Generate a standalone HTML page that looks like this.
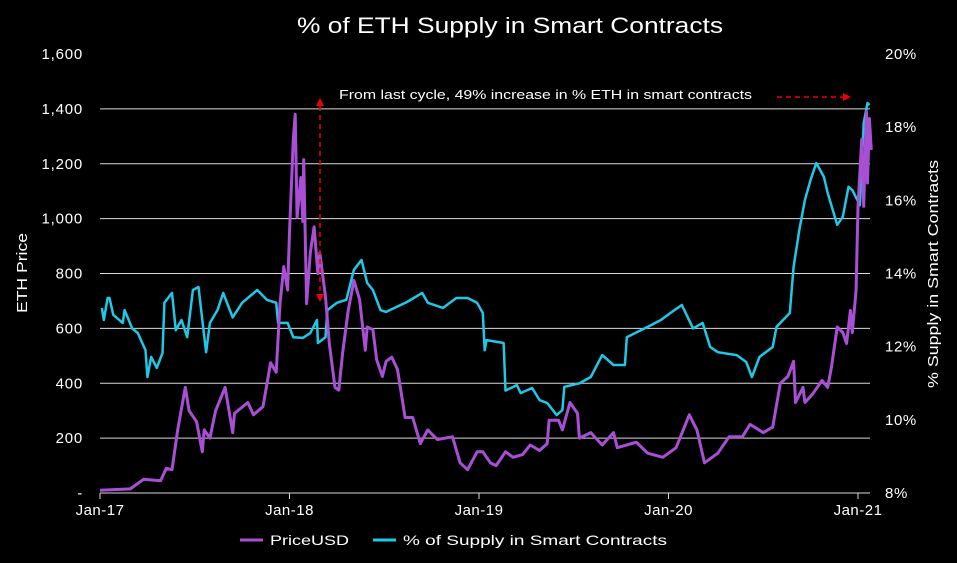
<!DOCTYPE html>
<html><head><meta charset="utf-8"><style>
body{margin:0;background:#000;}
svg{display:block;font-family:"Liberation Sans",sans-serif;}
</style></head><body>
<svg id="chart" width="957" height="563" viewBox="0 0 957 563">
<rect width="957" height="563" fill="#000"/>
<text x="297" y="33" fill="#fff" font-size="22" textLength="426" lengthAdjust="spacingAndGlyphs">% of ETH Supply in Smart Contracts</text>
<g id="grid"></g>
<g id="yl"></g>
<g id="yr"></g>
<g id="xa"></g>
<text transform="translate(27,313) rotate(-90)" fill="#fff" font-size="15" textLength="80" lengthAdjust="spacingAndGlyphs">ETH Price</text>
<text transform="translate(938,388) rotate(-90)" fill="#fff" font-size="15" textLength="228" lengthAdjust="spacingAndGlyphs">% Supply in Smart Contracts</text>
<path id="supplyLine" fill="none" stroke="#1ec8e6" stroke-width="2.5" stroke-linejoin="round"/>
<path id="priceLine" fill="none" stroke="#a84fd6" stroke-width="3" stroke-linejoin="round"/>
<text x="339" y="99" fill="#fff" font-size="13" textLength="413" lengthAdjust="spacingAndGlyphs">From last cycle, 49% increase in % ETH in smart contracts</text>
<g>
<line x1="777" y1="97" x2="843" y2="97" stroke="#e00" stroke-width="1.5" stroke-dasharray="5,4"/>
<polygon points="843,93 851,97 843,101" fill="#e00"/>
</g>
<g>
<line x1="320" y1="106" x2="320" y2="294" stroke="#e00" stroke-width="1.5" stroke-dasharray="5,4"/>
<polygon points="316,106 320,98 324,106" fill="#e00"/>
<polygon points="316,294 320,302 324,294" fill="#e00"/>
</g>
<g>
<g>
<line x1="240" y1="540" x2="263" y2="540" stroke="#a84fd6" stroke-width="3"/>
<text x="270" y="545" fill="#fff" font-size="14" textLength="79" lengthAdjust="spacingAndGlyphs">PriceUSD</text></g>
<g>
<line x1="373" y1="540" x2="396" y2="540" stroke="#1ec8e6" stroke-width="3"/>
<text x="403" y="545" fill="#fff" font-size="14" textLength="264" lengthAdjust="spacingAndGlyphs">% of Supply in Smart Contracts</text></g>
</g>
</svg>
<script>
const priceDates=[2017.00,2017.16,2017.23,2017.32,2017.35,2017.38,2017.41,2017.45,2017.47,2017.51,2017.54,2017.55,2017.58,2017.61,2017.66,2017.70,2017.71,2017.78,2017.81,2017.86,2017.90,2017.93,2017.95,2017.97,2017.99,2018.00,2018.02,2018.03,2018.04,2018.06,2018.07,2018.075,2018.09,2018.11,2018.13,2018.15,2018.16,2018.19,2018.21,2018.24,2018.26,2018.28,2018.31,2018.34,2018.37,2018.40,2018.41,2018.44,2018.46,2018.49,2018.51,2018.54,2018.57,2018.61,2018.65,2018.69,2018.73,2018.78,2018.86,2018.90,2018.94,2018.99,2019.02,2019.06,2019.09,2019.14,2019.18,2019.23,2019.27,2019.32,2019.36,2019.37,2019.42,2019.44,2019.48,2019.52,2019.53,2019.59,2019.65,2019.71,2019.73,2019.83,2019.89,2019.97,2020.04,2020.11,2020.15,2020.19,2020.26,2020.32,2020.39,2020.43,2020.50,2020.55,2020.59,2020.63,2020.66,2020.67,2020.71,2020.72,2020.76,2020.81,2020.84,2020.86,2020.89,2020.92,2020.94,2020.96,2020.97,2020.99,2021.00,2021.02,2021.03,2021.045,2021.05,2021.06,2021.07];
const priceValues=[10,15,50,45,90,85,230,385,300,260,150,230,200,300,385,220,290,330,285,315,475,440,690,825,740,950,1290,1380,1005,1150,990,1215,690,875,970,800,875,715,545,385,375,510,665,775,705,520,605,595,485,425,480,495,450,275,275,180,230,195,205,110,85,150,150,110,100,150,130,140,175,155,180,265,265,230,330,290,200,220,175,220,165,185,145,130,165,285,230,110,145,205,205,250,220,240,400,425,480,330,385,330,360,410,385,460,605,585,545,665,585,740,1045,1290,1045,1390,1130,1365,1250];
const supplyDates=[2017.01,2017.02,2017.04,2017.05,2017.07,2017.12,2017.13,2017.17,2017.20,2017.24,2017.25,2017.27,2017.30,2017.33,2017.34,2017.38,2017.40,2017.43,2017.46,2017.49,2017.52,2017.54,2017.56,2017.58,2017.62,2017.65,2017.70,2017.75,2017.83,2017.88,2017.93,2017.94,2017.99,2018.02,2018.07,2018.11,2018.145,2018.15,2018.19,2018.20,2018.25,2018.30,2018.34,2018.38,2018.41,2018.44,2018.48,2018.51,2018.62,2018.70,2018.73,2018.81,2018.88,2018.94,2018.99,2019.02,2019.03,2019.04,2019.13,2019.14,2019.20,2019.22,2019.28,2019.32,2019.36,2019.41,2019.44,2019.45,2019.53,2019.59,2019.65,2019.71,2019.77,2019.78,2019.89,2019.96,2020.01,2020.07,2020.13,2020.18,2020.22,2020.26,2020.36,2020.41,2020.44,2020.48,2020.55,2020.57,2020.64,2020.66,2020.69,2020.72,2020.75,2020.78,2020.82,2020.84,2020.89,2020.92,2020.95,2020.97,2021.01,2021.03,2021.05,2021.06];
const supplyValues=[13.06,12.73,13.33,13.33,12.87,12.65,13.0,12.5,12.37,11.9,11.17,11.72,11.42,11.83,13.2,13.47,12.45,12.73,12.26,13.55,13.63,12.73,11.85,12.65,13.0,13.47,12.8,13.2,13.55,13.28,13.2,12.65,12.65,12.26,12.24,12.37,12.73,12.1,12.26,13.0,13.2,13.28,14.1,14.37,13.74,13.55,13.0,12.95,13.22,13.47,13.2,13.06,13.33,13.33,13.2,12.92,11.9,12.18,12.1,10.8,10.95,10.73,10.87,10.54,10.46,10.13,10.27,10.9,11.0,11.17,11.77,11.5,11.5,12.26,12.54,12.73,12.92,13.14,12.5,12.65,11.99,11.85,11.77,11.58,11.17,11.72,11.99,12.54,12.92,14.18,15.19,16.01,16.56,17.02,16.64,16.2,15.33,15.55,16.37,16.28,15.87,18.11,18.66,18.6];
const xTickYears=[2017,2018,2019,2020,2021];
const xTickLabels=["Jan-17","Jan-18","Jan-19","Jan-20","Jan-21"];
const leftTicks=[0,200,400,600,800,1000,1200,1400,1600];
const leftTickLabels=["-","200","400","600","800","1,000","1,200","1,400","1,600"];
const rightTicks=[8,10,12,14,16,18,20];

const NS="http://www.w3.org/2000/svg";
const X0=100,X1=858,Y0=493,Y1=54;
const xs=t=>X0+(t-2017)/(2021-2017)*(X1-X0);
const yL=v=>Y0-v/1600*(Y0-Y1);
const yR=p=>Y0-(p-8)/12*(Y0-Y1);
function mk(tag,attrs,parent){const e=document.createElementNS(NS,tag);for(const k in attrs)e.setAttribute(k,attrs[k]);parent.appendChild(e);return e;}
const grid=document.getElementById('grid'),yl=document.getElementById('yl'),yr=document.getElementById('yr'),xa=document.getElementById('xa');
leftTicks.forEach((v,i)=>{
  if(v>0&&v<1600){const g=mk('line',{x1:X0,x2:870,y1:yL(v),y2:yL(v),stroke:'#d9d9d9','stroke-width':1},grid);
  
  }
  const t=mk('text',{x:83,y:yL(v)+5,'text-anchor':'end',fill:'#fff','font-size':15,'letter-spacing':0.8},yl);t.textContent=leftTickLabels[i];
  
  
});
rightTicks.forEach(p=>{
  const t=mk('text',{x:885,y:yR(p)+5,fill:'#fff','font-size':15,'letter-spacing':0.6},yr);t.textContent=p+'%';
  
  
});
const base=mk('line',{x1:X0,x2:870,y1:Y0,y2:Y0,stroke:'#d9d9d9','stroke-width':1},xa);


xTickYears.forEach((yv,i)=>{
  const tk=mk('line',{x1:xs(yv),x2:xs(yv),y1:Y0,y2:Y0+6,stroke:'#d9d9d9'},xa);
  
  
  const t=mk('text',{x:xs(yv),y:515,'text-anchor':'middle',fill:'#fff','font-size':15,'letter-spacing':0.5},xa);t.textContent=xTickLabels[i];
  
  
});
function pathOf(d,v,f){return d.map((t,i)=>(i?'L':'M')+xs(t).toFixed(1)+','+f(v[i]).toFixed(1)).join('');}
document.getElementById('priceLine').setAttribute('d',pathOf(priceDates,priceValues,yL));
document.getElementById('supplyLine').setAttribute('d',pathOf(supplyDates,supplyValues,yR));
</script>
</body></html>
